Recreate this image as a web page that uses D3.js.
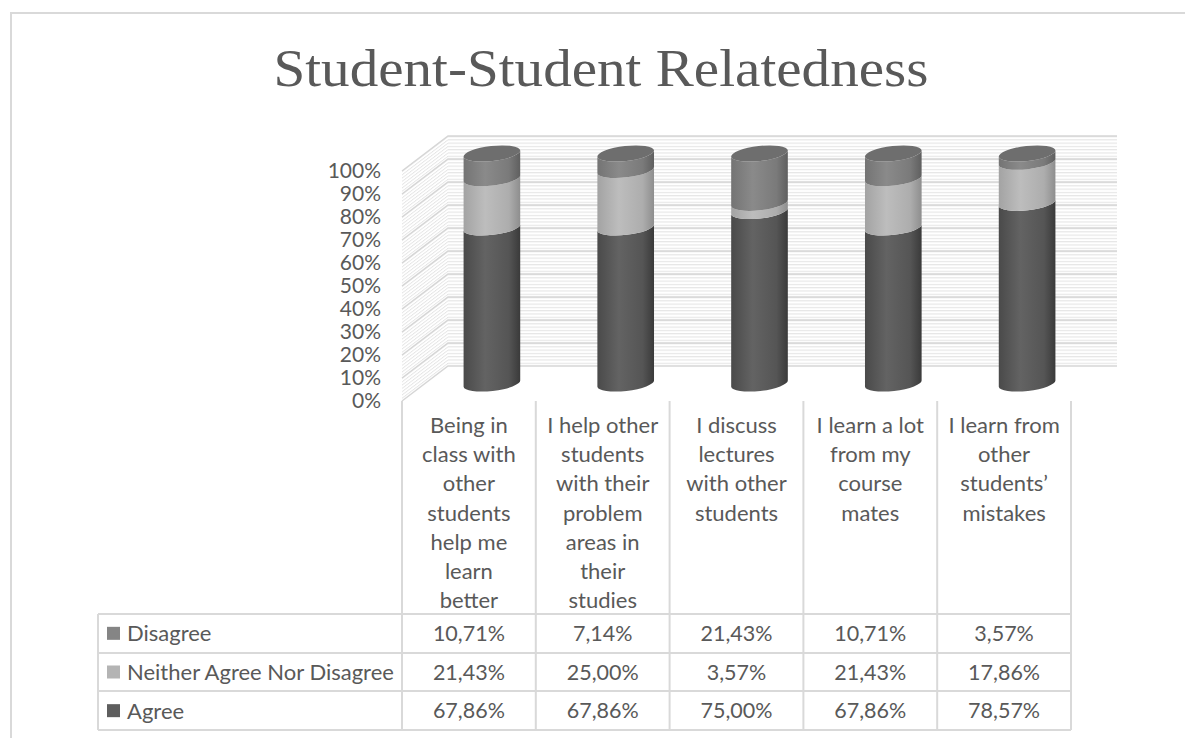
<!DOCTYPE html>
<html><head><meta charset="utf-8">
<script src="https://cdn.jsdelivr.net/npm/d3@7"></script>
<style>
html,body{margin:0;padding:0;background:#fff;}
svg{display:block;}
text{font-family:Lato,"Open Sans",sans-serif;fill:#595959;}
</style></head>
<body><svg id="c" width="1185" height="738"></svg>
<script>
// ---- data ----
const title = "Student-Student Relatedness";
const categories = ["c1","c2","c3","c4","c5"];
const categoryLines = [
  ["Being in","class with","other","students","help me","learn","better"],
  ["I help other","students","with their","problem","areas in","their","studies"],
  ["I discuss","lectures","with other","students"],
  ["I learn a lot","from my","course","mates"],
  ["I learn from","other","students\u2019","mistakes"]
];
const seriesNames = ["Disagree","Neither Agree Nor Disagree","Agree"];
const disagree = [10.71, 7.14, 21.43, 10.71, 3.57];
const neither  = [21.43, 25.00, 3.57, 21.43, 17.86];
const agree    = [67.86, 67.86, 75.00, 67.86, 78.57];
const yTicks = [0,10,20,30,40,50,60,70,80,90,100];

// ---- styles ----
const legendColors = {"Agree":"#5e5e5e","Neither Agree Nor Disagree":"#b4b4b4","Disagree":"#858585"};
const gradStops = {
  "Agree":[["0%","#4a4a4a"],["38%","#636363"],["80%","#555555"],["100%","#3a3a3a"]],
  "Neither Agree Nor Disagree":[["0%","#a3a3a3"],["38%","#bdbdbd"],["80%","#adadad"],["100%","#8e8e8e"]],
  "Disagree":[["0%","#747474"],["38%","#8a8a8a"],["80%","#7a7a7a"],["100%","#5f5f5f"]]
};

const svg = d3.select("#c");
const defs = svg.append("defs");

// frame
svg.append("path").attr("d","M11,738 L11,13 L1185,13").attr("fill","none").attr("stroke","#d9d9d9").attr("stroke-width",2);

// title
svg.append("text").attr("x",601).attr("y",86).attr("text-anchor","middle")
  .style("font-family","'Liberation Serif','DejaVu Serif',serif").style("font-size","53px")
  .attr("textLength",655).attr("lengthAdjust","spacingAndGlyphs").text(title);

// scales
const x = d3.scaleBand().domain(categories).range([402,1071]);
const y = d3.scaleLinear().domain([0,100]).range([401,171]);
const DX = 46, DY = -35;
const left = x.range()[0], right = x.range()[1];

// hatch patterns
const step = 23/7;
function hatch(id, transform){
  const p = defs.append("pattern").attr("id",id).attr("patternUnits","userSpaceOnUse")
    .attr("width",20).attr("height",step).attr("patternTransform",transform);
  p.append("line").attr("x1",0).attr("x2",20).attr("y1",0.6).attr("y2",0.6)
    .attr("stroke","#e2e2e2").attr("stroke-width",1);
}
hatch("hatchBack", `translate(0,${y(100)+DY})`);
hatch("hatchSide", `translate(${left},${y(100)}) skewY(${Math.atan2(DY,DX)*180/Math.PI})`);

// back wall & side wall
svg.append("rect").attr("x",left+DX).attr("y",y(100)+DY).attr("width",right-left).attr("height",y(0)-y(100))
  .attr("fill","url(#hatchBack)");
svg.append("path").attr("d",`M${left},${y(0)} L${left},${y(100)} L${left+DX},${y(100)+DY} L${left+DX},${y(0)+DY} Z`)
  .attr("fill","url(#hatchSide)");

// gridlines
const grid = svg.append("g").attr("fill","none").attr("stroke","#d6d6d6").attr("stroke-width",1.5);
yTicks.forEach(t=>{
  grid.append("path").attr("d",`M${left},${y(t)} L${left+DX},${y(t)+DY} L${right+DX},${y(t)+DY}`);
});

// y axis
const yAxis = d3.axisLeft(y).tickValues(yTicks).tickSize(0).tickPadding(21).tickFormat(d=>d+"%");
const ag = svg.append("g").attr("transform",`translate(${left},0)`).call(yAxis);
ag.select(".domain").remove();
ag.selectAll("text").style("font-family","Lato,sans-serif").style("font-size","21px").attr("fill","#595959");

// gradients
seriesNames.forEach((s,i)=>{
  const g = defs.append("linearGradient").attr("id","g"+i).attr("x1","0").attr("x2","1").attr("y1","0").attr("y2","0");
  gradStops[s].forEach(st=>g.append("stop").attr("offset",st[0]).attr("stop-color",st[1]));
});

// cylinders
const rx = 28.5, ry = 7.5, rot = -6.5;
const th = rot*Math.PI/180;
const stackData = categories.map((c,i)=>({c, Agree:agree[i], "Neither Agree Nor Disagree":neither[i], Disagree:disagree[i]}));
const stack = d3.stack().keys(["Agree","Neither Agree Nor Disagree","Disagree"]);
const layers = stack(stackData);
const cyl = svg.append("g");
categories.forEach((c,ci)=>{
  const cx = x(c)+x.bandwidth()/2 + DX/2;
  const ym = v => y(v) + DY/2;
  const px = (v,sgn) => [cx + sgn*rx*Math.cos(th), ym(v) + sgn*rx*Math.sin(th)];
  layers.forEach(layer=>{
    const key = layer.key;
    const [v0,v1] = layer[ci];
    if (v1 - v0 <= 0) return;
    const Lt = px(v1,-1), Lb = px(v0,-1), Rb = px(v0,1), Rt = px(v1,1);
    const d = `M${Lt} L${Lb} A${rx},${ry} ${rot} 0 0 ${Rb} L${Rt} A${rx},${ry} ${rot} 0 1 ${Lt} Z`;
    cyl.append("path").attr("d",d).attr("fill","url(#g"+seriesNames.indexOf(key)+")");
  });
  const top = d3.max(layers, l=>l[ci][1]);
  cyl.append("ellipse").attr("cx",0).attr("cy",0).attr("rx",rx).attr("ry",ry)
    .attr("transform",`translate(${cx},${ym(top)}) rotate(${rot})`).attr("fill","#6e6e6e");
});

// table
const rowY = d3.scaleBand().domain(seriesNames).range([614,730]);
const tline = svg.append("g").attr("stroke","#d9d9d9").attr("stroke-width",2).attr("fill","none");
[614,653,691,730].forEach(yy=>tline.append("line").attr("x1",98).attr("x2",right).attr("y1",yy).attr("y2",yy));
tline.append("line").attr("x1",98).attr("x2",98).attr("y1",614).attr("y2",730);
[left, ...categories.map(c=>x(c)+x.bandwidth())].forEach(xx=>
  tline.append("line").attr("x1",xx).attr("x2",xx).attr("y1",y(0)).attr("y2",730));

// category labels
categories.forEach((c,i)=>{
  const t = svg.append("text").attr("text-anchor","middle").style("font-size","22px");
  categoryLines[i].forEach((ln,j)=>{
    t.append("tspan").attr("x",x(c)+x.bandwidth()/2).attr("y",433+j*29.2).text(ln);
  });
});

// legend column & values
const fmt = d3.formatLocale({decimal:",",thousands:".",grouping:[3],currency:["","€"]}).format(".2f");
const values = {"Disagree":disagree,"Neither Agree Nor Disagree":neither,"Agree":agree};
seriesNames.forEach(s=>{
  const cy = rowY(s)+rowY.bandwidth()/2;
  svg.append("rect").attr("x",107).attr("y",cy-6.5).attr("width",13).attr("height",13).attr("fill",legendColors[s]);
  svg.append("text").attr("x",127).attr("y",cy).attr("dy","0.36em").style("font-size","22px").text(s);
  categories.forEach((c,i)=>{
    svg.append("text").attr("x",x(c)+x.bandwidth()/2).attr("y",cy).attr("dy","0.36em")
      .attr("text-anchor","middle").style("font-size","21.5px").text(fmt(values[s][i])+"%");
  });
});
</script></body></html>
